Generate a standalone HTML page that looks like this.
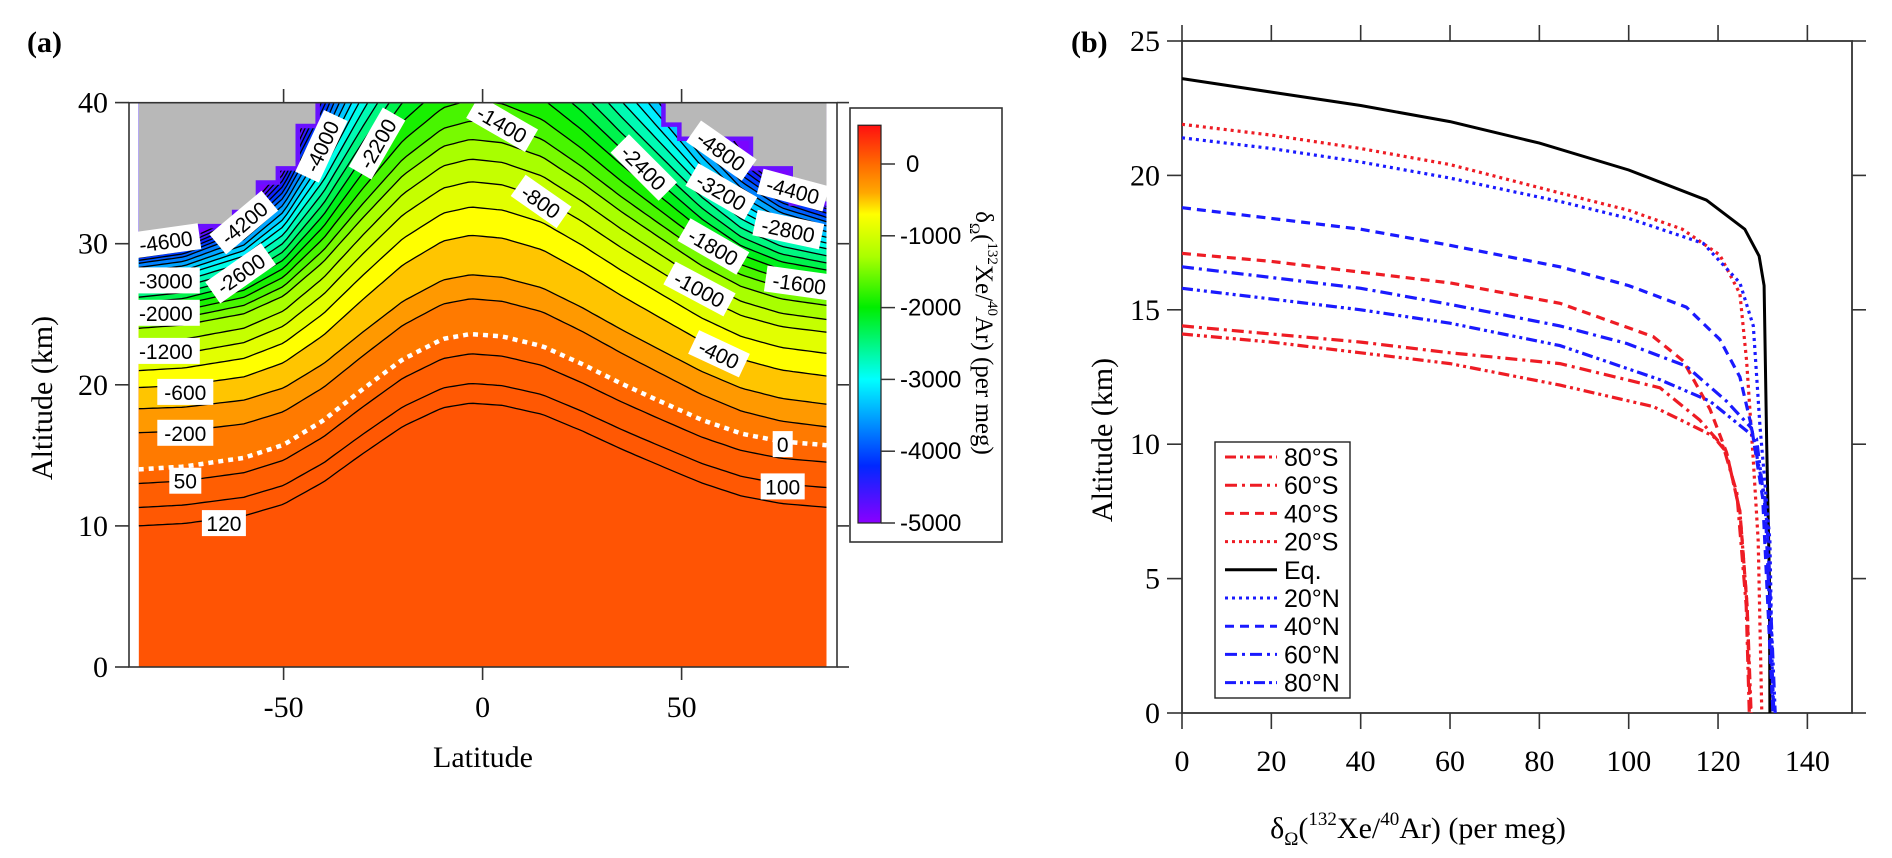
<!DOCTYPE html>
<html><head><meta charset="utf-8"><style>
html,body{margin:0;padding:0;background:#fff;}
svg{display:block;font-family:"Liberation Serif",serif;}
</style></head><body>
<svg id="fig" width="1892" height="858" viewBox="0 0 1892 858" xmlns="http://www.w3.org/2000/svg">
<defs>
<clipPath id="clipA"><rect x="138.7" y="102.7" width="687.8" height="564.3"/></clipPath>
<clipPath id="clipB"><rect x="1182" y="41" width="670" height="672"/></clipPath>
<linearGradient id="cbGrad" x1="0" y1="1" x2="0" y2="0"></linearGradient>
</defs>
<g id="panelA"></g>
<g id="panelB"></g>
</svg>
<script>
// ---------- Panel (a) data ----------
const levels=[120,100,50,0,-200,-400,-600,-800,-1000,-1200,-1400,-1600,-1800,-2000,-2200,-2400,-2600,-2800,-3000,-3200,-3400,-3600,-3800,-4000,-4200,-4400,-4600,-4800];
const leftAlt=[10.0,11.3,13.0,14.0,16.6,18.3,19.8,21.0,22.0,23.0,24.0,24.5,25.0,25.4,25.8,26.2,26.6,27.0,27.4,27.7,28.0,28.3,28.6,28.8,29.0,29.2,29.4,29.6];
const peakAlt=[18.7,20.1,22.2,23.6,26.1,27.8,30.6,32.6,34.4,36.0,37.4,38.7,40.2,41.8,43.4,45.0,46.6,48.2,49.8,51.4,53.0,54.6,56.2,57.8,59.4,61.0,62.6,64.2];
const rightAlt=[11.3,12.7,14.5,15.7,17.0,18.6,20.6,22.2,23.7,24.6,25.6,26.4,27.0,27.6,28.1,28.6,29.1,29.6,30.0,30.4,30.8,31.2,31.5,31.8,32.1,32.4,32.6,32.8];
const shapeLat=[-87,-75,-60,-50,-40,-30,-20,-10,-3,5,15,25,35,45,55,65,75,87];
const shapeVal=[0,0.01,0.06,0.15,0.33,0.57,0.8,0.96,1,0.98,0.9,0.75,0.58,0.42,0.26,0.13,0.05,0];
const grayLeftLat=[-86.4,-72,-72,-63,-63,-57,-57,-52,-52,-47,-47,-42,-42];
const grayLeftAlt=[30.8,30.8,31.4,31.4,32.4,32.4,34.5,34.5,35.5,35.5,38.5,38.5,40];
const grayRightLat=[46,46,50,50,68,68,78,78,86.4];
const grayRightAlt=[40,38.6,38.6,37.6,37.6,35.5,35.5,33.0,33.0];
const labelText=["-4600","-4200","-4000","-2200","-1400","-4800","-2400","-3200","-4400","-2800","-1800","-1600","-1000","-800","-400","-3000","-2600","-2000","-1200","-600","-200","50","120","0","100"];
const labelLat=[-79.6,-60,-40.5,-26.5,4.9,60,40.5,60,78,76.8,58,79.6,54.5,14.7,59.4,-79.6,-60.8,-79.6,-79.6,-74.7,-74.7,-74.7,-65,75.4,75.4];
const labelAlt=[30.2,31.5,36.9,37.1,38.5,36.6,35.4,33.7,33.8,31.0,29.8,27.2,26.8,33.0,22.2,27.4,27.9,25.1,22.4,19.5,16.6,13.2,10.2,15.8,12.8];
const labelRot=[-8,-40,-65,-60,30,35,45,30,15,12,30,8,28,35,25,0,-35,0,0,0,0,0,0,0,0];
const cmapVal=[540,0,-400,-700,-1300,-2000,-3000,-4200,-5000];
const cmapCol=["#ff1010","#ff6a00","#ffa800","#ffff00","#a8ff00","#00ee00","#00ffff","#0028ff","#8a00ff"];
const latTicks=[-50,0,50];
const altTicksA=[0,10,20,30,40];
const cbTicks=[0,-1000,-2000,-3000,-4000,-5000];

// ---------- Panel (b) data ----------
const seriesNames=["80°S","60°S","40°S","20°S","Eq.","20°N","40°N","60°N","80°N"];
const s80S_x=[0,20,40,60,84.6,105.5,112.9,118.9,121.9,124.9,126.5,127.4];
const s80S_y=[14.1,13.8,13.4,13.0,12.2,11.4,10.8,10.3,9.7,7.5,4,0];
const s60S_x=[0,20,40,60,84.6,107,115.9,121.2,124.2,126.3,127];
const s60S_y=[14.4,14.1,13.8,13.4,13.0,12.1,10.9,9.9,8.2,4,0];
const s40S_x=[0,20,40,60,84.6,105.5,112.2,118.2,121.9,124.9,126.5,127.2];
const s40S_y=[17.1,16.8,16.4,16.0,15.24,14.0,13.1,11.3,9.7,7.5,4,0];
const s20S_x=[0,20,40,60,85,100,112,120.4,124.9,126.4,127.9,129,129.8];
const s20S_y=[21.9,21.5,21.0,20.4,19.33,18.7,18.0,17.04,15.6,13.1,9.4,6.4,0];
const sEq_x=[0,20,40,60,80,100,117.4,126,129.2,130.3,130.9,131.5,131.6];
const sEq_y=[23.6,23.1,22.6,22.0,21.2,20.2,19.08,18.0,17.0,15.9,10,5,0];
const s20N_x=[0,20,40,60,85.4,100,116.7,124.9,127.9,129.4,131.6,132.3];
const s20N_y=[21.4,21.0,20.5,19.9,19.0,18.4,17.47,16.0,14.4,10.65,6.4,0];
const s40N_x=[0,20,40,60,84.6,100,112.9,120.4,124.9,127.5,130,132.3];
const s40N_y=[18.8,18.4,18.0,17.4,16.6,15.9,15.1,13.9,12.5,10.65,8,0];
const s60N_x=[0,20,40,60,84.6,99.5,112.9,121.9,127.5,130.5,132.5];
const s60N_y=[16.6,16.2,15.8,15.2,14.4,13.75,12.9,11.6,10.6,8,0];
const s80N_x=[0,20,40,60,84.6,107,118.2,128.6,131,132.8];
const s80N_y=[15.8,15.4,15.0,14.5,13.67,12.4,11.6,10.2,7,0];
const xTicksB=[0,20,40,60,80,100,120,140];
const yTicksB=[0,5,10,15,20,25];

const NS="http://www.w3.org/2000/svg";
function mk(tag,attrs,parent){const e=document.createElementNS(NS,tag);for(const k in attrs)e.setAttribute(k,attrs[k]);if(parent)parent.appendChild(e);return e;}

const xA=lat=>482.6+lat*3.98;
const yA=alt=>667-alt*14.11;
const yCb=v=>164-v*0.0718;
const xB=v=>1182+v*4.467;
const yB=a=>713-a*26.88;

function hex2rgb(h){return [parseInt(h.substr(1,2),16),parseInt(h.substr(3,2),16),parseInt(h.substr(5,2),16)];}
function cmap(v){
  if(v>=cmapVal[0])return cmapCol[0];
  for(let i=0;i<cmapVal.length-1;i++){
    if(v<=cmapVal[i]&&v>=cmapVal[i+1]){
      const t=(cmapVal[i]-v)/(cmapVal[i]-cmapVal[i+1]);
      const a=hex2rgb(cmapCol[i]),b=hex2rgb(cmapCol[i+1]);
      return "rgb("+a.map((c,j)=>Math.round(c+(b[j]-c)*t)).join(",")+")";
    }
  }
  return cmapCol[cmapCol.length-1];
}
function shape(lat){
  if(lat<=shapeLat[0])return shapeVal[0];
  for(let i=0;i<shapeLat.length-1;i++){
    if(lat>=shapeLat[i]&&lat<=shapeLat[i+1]){
      const t=(lat-shapeLat[i])/(shapeLat[i+1]-shapeLat[i]);
      return shapeVal[i]+(shapeVal[i+1]-shapeVal[i])*t;
    }
  }
  return shapeVal[shapeVal.length-1];
}
function contourAlt(i,lat){
  const base=leftAlt[i]+(rightAlt[i]-leftAlt[i])*(lat+86.4)/172.8;
  return base+(peakAlt[i]-base)*shape(lat);
}
function contourPts(i){
  const pts=[];
  for(let lat=-86.4;lat<=86.41;lat+=1.2){pts.push([xA(lat),yA(contourAlt(i,lat))]);}
  return pts;
}

// ---------- Panel A ----------
const A=document.getElementById('panelA');
const dataG=mk('g',{'clip-path':'url(#clipA)'},A);


const bg=mk('rect',{x:138.7,y:102.7,width:687.8,height:564.3,fill:cmap(130)},dataG);


for(let i=0;i<levels.length;i++){
  const nextV=i<levels.length-1?levels[i+1]:levels[i]-200;
  const pts=contourPts(i);
  const d="M"+pts.map(p=>p[0].toFixed(1)+","+p[1].toFixed(1)).join("L")+"L"+xA(86.4)+",0L"+xA(-86.4)+",0Z";
  const band=mk('path',{d:d,fill:cmap((levels[i]+nextV)/2)},dataG);
  
  
}
for(let i=0;i<levels.length;i++){
  const pts=contourPts(i);
  const d="M"+pts.map(p=>p[0].toFixed(1)+","+p[1].toFixed(1)).join("L");
  const isZero=levels[i]===0;
  const ln=mk('path',{d:d,fill:'none',stroke:isZero?'#fff':'#000','stroke-width':isZero?4.5:1.3,'stroke-dasharray':isZero?'5,5':'none'},dataG);
  
  
}
function grayPoly(lats,alts,side){
  const pts=lats.map((l,k)=>xA(l).toFixed(1)+","+yA(alts[k]).toFixed(1));
  const edge=mk('polyline',{points:pts.join(" "),fill:'none',stroke:'#6a10ff','stroke-width':9},dataG);
  
  
  let poly;
  if(side==='left')poly=pts.concat([xA(-86.4)+","+yA(41)]);
  else poly=pts.concat([xA(86.4)+","+yA(41)]);
  const g=mk('polygon',{points:poly.join(" "),fill:'#b8b8b8'},dataG);
  
  
}
grayPoly(grayLeftLat,grayLeftAlt,'left');
grayPoly(grayRightLat,grayRightAlt,'right');
for(let i=0;i<labelText.length;i++){
  const g=mk('g',{transform:`translate(${xA(labelLat[i]).toFixed(1)},${yA(labelAlt[i]).toFixed(1)}) rotate(${labelRot[i]})`},A);
  
  
  const w=labelText[i].length*12+8;
  mk('rect',{x:-w/2,y:-13,width:w,height:26,fill:'#fff'},g);
  const t=mk('text',{x:0,y:8,'text-anchor':'middle','font-size':21,'font-family':'"Liberation Sans",sans-serif',fill:'#000'},g);
  t.textContent=labelText[i];
}
const frameA=mk('rect',{x:129,y:102.7,width:708,height:564.3,fill:'none',stroke:'#333','stroke-width':1.6},A);


for(const v of altTicksA){
  mk('line',{x1:115,x2:129,y1:yA(v),y2:yA(v),stroke:'#333','stroke-width':1.6},A);
  mk('line',{x1:837,x2:849,y1:yA(v),y2:yA(v),stroke:'#333','stroke-width':1.6},A);
  const t=mk('text',{x:108,y:yA(v)+10,'text-anchor':'end','font-size':30},A);
  t.textContent=v;
  
  
}
for(const v of latTicks){
  mk('line',{x1:xA(v),x2:xA(v),y1:102.7,y2:89,stroke:'#333','stroke-width':1.6},A);
  mk('line',{x1:xA(v),x2:xA(v),y1:667,y2:680,stroke:'#333','stroke-width':1.6},A);
  const t=mk('text',{x:xA(v),y:717,'text-anchor':'middle','font-size':30},A);
  t.textContent=v;
  
  
}
let tt=mk('text',{x:483,y:767,'text-anchor':'middle','font-size':30},A);tt.textContent='Latitude';


tt=mk('text',{x:0,y:0,'text-anchor':'middle','font-size':30,transform:'translate(52,398) rotate(-90)'},A);tt.textContent='Altitude (km)';


tt=mk('text',{x:27,y:52,'font-size':30,'font-weight':'bold'},A);tt.textContent='(a)';


const grad=document.getElementById('cbGrad');
for(let k=cmapVal.length-1;k>=0;k--){
  const off=(cmapVal[k]-(-5000))/(540-(-5000));
  mk('stop',{offset:off.toFixed(3),'stop-color':cmapCol[k]},grad);
}
const cbBox=mk('rect',{x:850,y:108,width:152,height:434,fill:'#fff',stroke:'#333','stroke-width':1.6},A);


const cb=mk('rect',{x:858,y:yCb(540),width:23,height:yCb(-5000)-yCb(540),fill:'url(#cbGrad)',stroke:'#222','stroke-width':1.2},A);


for(const v of cbTicks){
  mk('line',{x1:881,x2:895,y1:yCb(v),y2:yCb(v),stroke:'#333','stroke-width':1.5},A);
  const t=mk('text',{x:v===0?906:900,y:yCb(v)+8,'font-size':24,'font-family':'"Liberation Sans",sans-serif'},A);
  t.textContent=v;
  
  
}
tt=mk('text',{x:0,y:0,'text-anchor':'middle','font-size':25,transform:'translate(976,333) rotate(90)'},A);
tt.innerHTML='δ<tspan font-size="15" dy="6">Ω</tspan><tspan dy="-6">(</tspan><tspan font-size="15" dy="-12">132</tspan><tspan dy="12">Xe/</tspan><tspan font-size="15" dy="-12">40</tspan><tspan dy="12">Ar) (per meg)</tspan>';



// ---------- Panel B ----------
const B=document.getElementById('panelB');
const frameB=mk('rect',{x:1182,y:41,width:670,height:672,fill:'none',stroke:'#333','stroke-width':1.8},B);


for(const v of xTicksB){
  mk('line',{x1:xB(v),x2:xB(v),y1:713,y2:729,stroke:'#333','stroke-width':1.6},B);
  mk('line',{x1:xB(v),x2:xB(v),y1:41,y2:25,stroke:'#333','stroke-width':1.6},B);
  const t=mk('text',{x:xB(v),y:771,'text-anchor':'middle','font-size':30},B);
  t.textContent=v;
  
  
}
for(const v of yTicksB){
  mk('line',{x1:1167,x2:1182,y1:yB(v),y2:yB(v),stroke:'#333','stroke-width':1.6},B);
  mk('line',{x1:1852,x2:1866,y1:yB(v),y2:yB(v),stroke:'#333','stroke-width':1.6},B);
  const t=mk('text',{x:1160,y:yB(v)+10,'text-anchor':'end','font-size':30},B);
  t.textContent=v;
  
  
}
tt=mk('text',{x:1071,y:52,'font-size':30,'font-weight':'bold'},B);tt.textContent='(b)';


tt=mk('text',{x:0,y:0,'text-anchor':'middle','font-size':30,transform:'translate(1112,440) rotate(-90)'},B);tt.textContent='Altitude (km)';


tt=mk('text',{x:1418,y:838,'text-anchor':'middle','font-size':30},B);
tt.innerHTML='δ<tspan font-size="19" dy="7">Ω</tspan><tspan dy="-7">(</tspan><tspan font-size="19" dy="-13">132</tspan><tspan dy="13">Xe/</tspan><tspan font-size="19" dy="-13">40</tspan><tspan dy="13">Ar) (per meg)</tspan>';



const seriesX=[s80S_x,s60S_x,s40S_x,s20S_x,sEq_x,s20N_x,s40N_x,s60N_x,s80N_x];
const seriesY=[s80S_y,s60S_y,s40S_y,s20S_y,sEq_y,s20N_y,s40N_y,s60N_y,s80N_y];
const RED="#ee1c24",BLUE="#1a1aff";
const styleCol=[RED,RED,RED,RED,"#000",BLUE,BLUE,BLUE,BLUE];
const styleDash=["11,4,3,4,3,4","12,5,3,5","9,6","3,4","none","3,4","9,6","12,5,3,5","11,4,3,4,3,4"];
const linesG=mk('g',{'clip-path':'url(#clipB)'},B);
for(let s=0;s<seriesNames.length;s++){
  const d="M"+seriesX[s].map((v,k)=>xB(v).toFixed(1)+","+yB(seriesY[s][k]).toFixed(1)).join("L");
  const p=mk('path',{d:d,fill:'none',stroke:styleCol[s],'stroke-width':s===4?3:3.2,'stroke-dasharray':styleDash[s]},linesG);
  
  
}
const leg=mk('g',{},B);


mk('rect',{x:1215,y:442,width:135,height:256,fill:'#fff',stroke:'#222','stroke-width':1.4},leg);
for(let s=0;s<seriesNames.length;s++){
  const y=457+s*28.2;
  const e=mk('g',{},leg);
  
  
  mk('line',{x1:1225,x2:1277,y1:y,y2:y,stroke:styleCol[s],'stroke-width':3,'stroke-dasharray':styleDash[s]},e);
  const t=mk('text',{x:1284,y:y+9,'font-size':25,'font-family':'"Liberation Sans",sans-serif'},e);
  t.textContent=seriesNames[s];
}
</script>
</body></html>
